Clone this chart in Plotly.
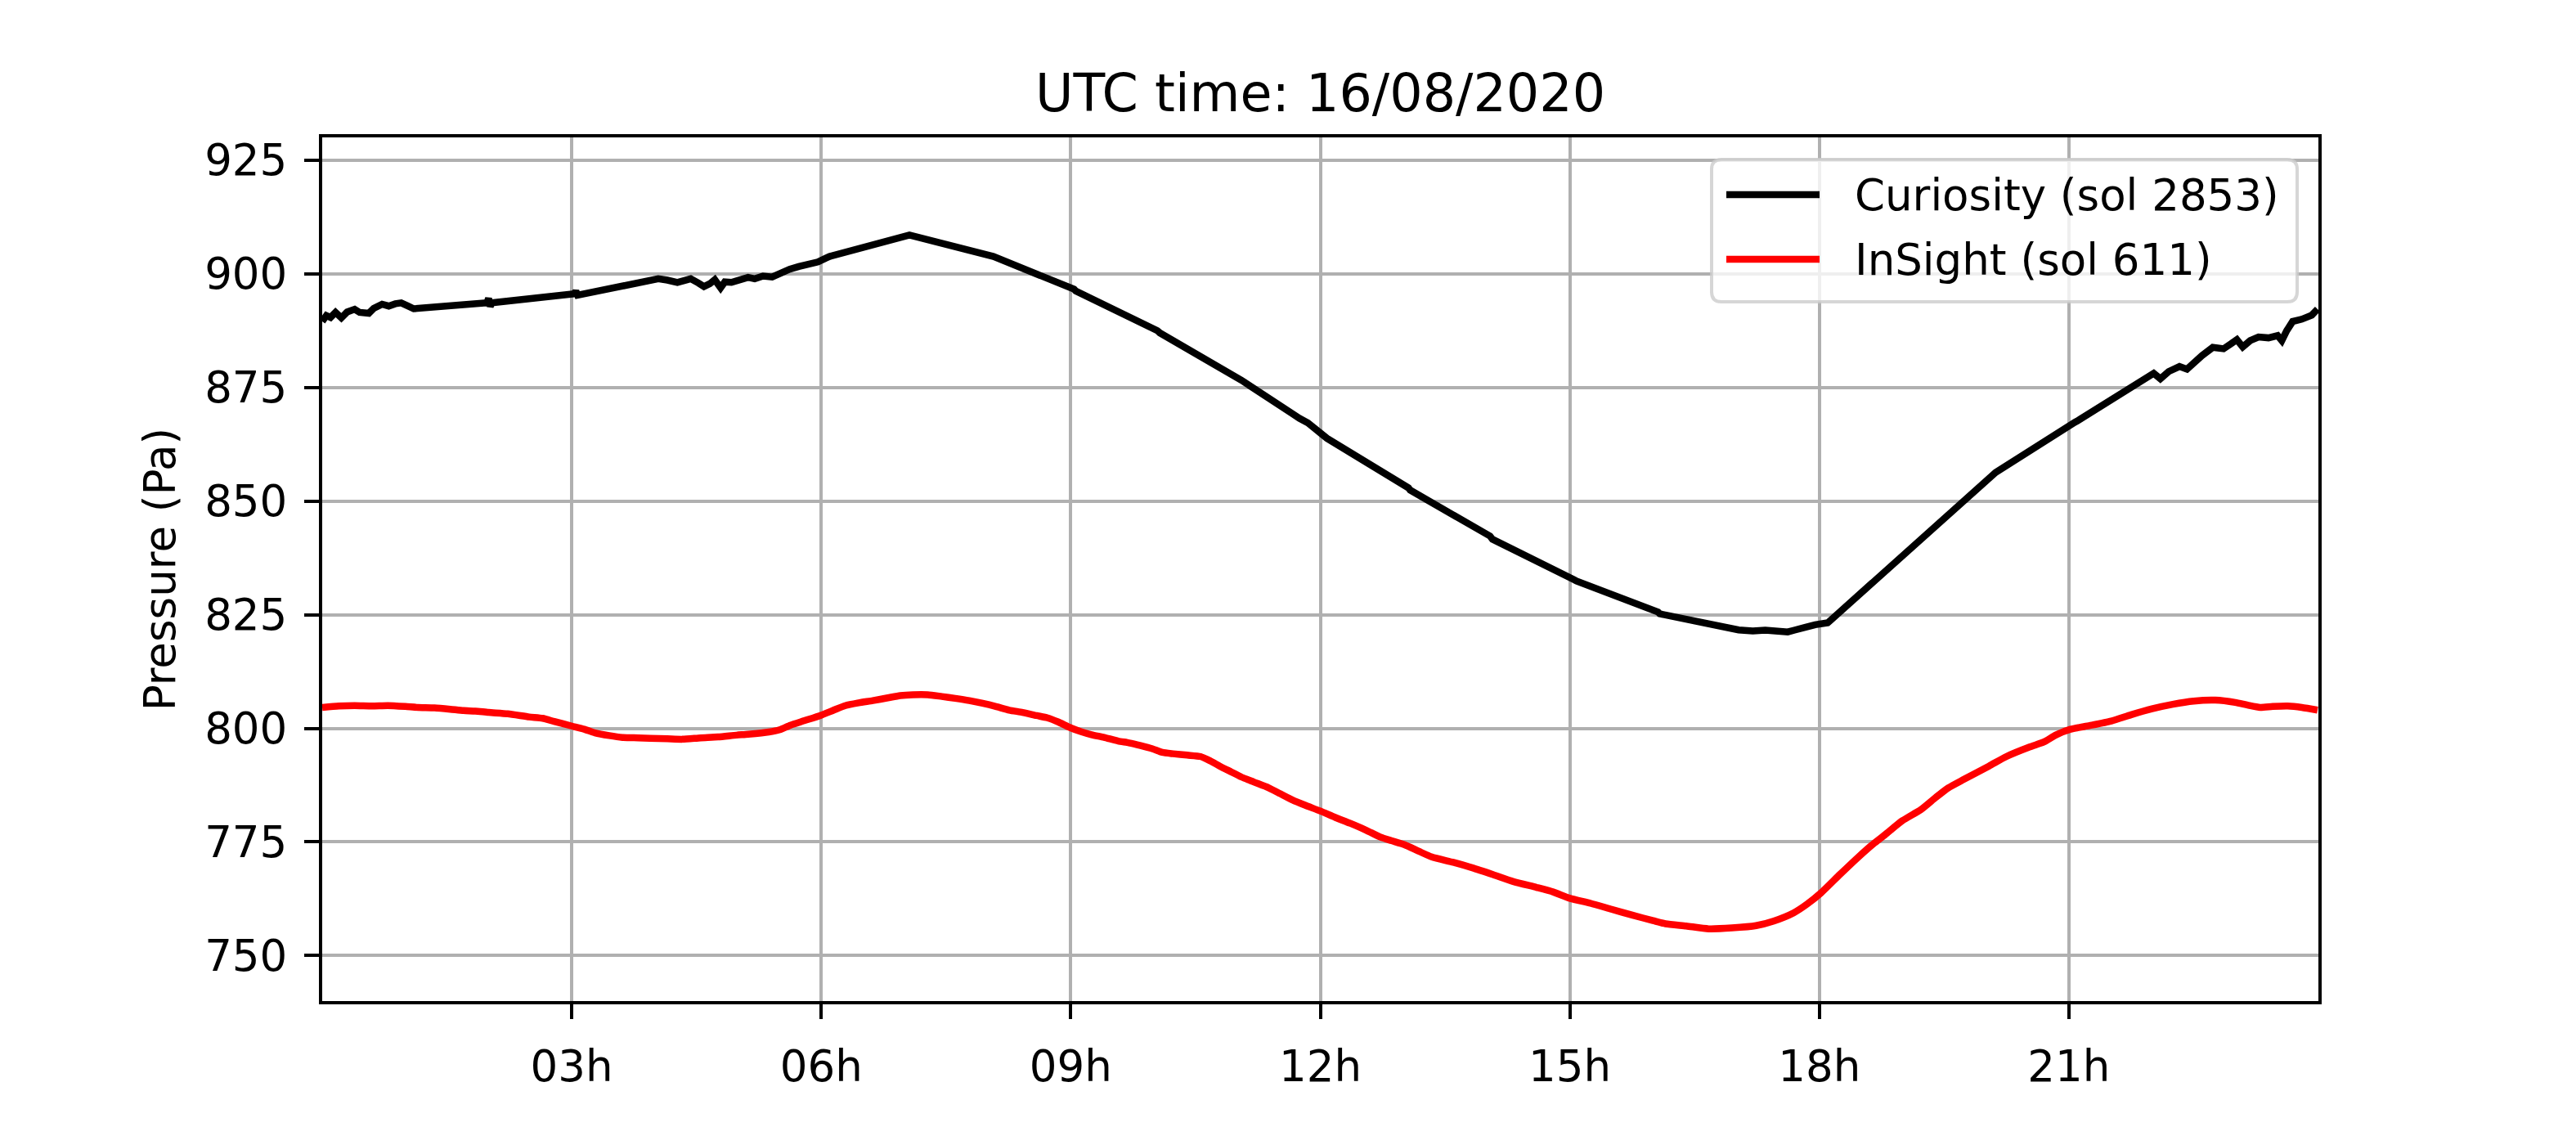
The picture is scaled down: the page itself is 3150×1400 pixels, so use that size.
import plotly.graph_objects as go

# ---------------- data (hours UTC on 16/08/2020, pressure in Pa) ----------------
curiosity_hours = [
    0.00, 0.05, 0.10, 0.16, 0.23, 0.30, 0.39, 0.45, 0.56, 0.62, 0.72, 0.80, 0.88, 0.95, 1.02, 1.10,
    1.98, 2.00, 2.02, 2.04,
    3.03, 3.05, 3.07,
    4.04, 4.15, 4.27, 4.35, 4.43, 4.52, 4.59, 4.66, 4.72, 4.79, 4.84, 4.92, 5.00, 5.12, 5.20, 5.30,
    5.41, 5.50, 5.62, 5.73, 5.85, 5.96, 6.05, 6.10,
    7.06, 8.04, 8.07, 9.04, 9.06, 10.04, 10.07,
    11.05, 11.15, 11.25, 11.35, 11.45, 11.55, 11.65, 11.75, 11.85, 11.95, 12.05, 12.08,
    13.06, 13.08, 14.04, 14.07, 15.05, 15.08, 16.06, 16.08,
    17.03, 17.20, 17.35, 17.50, 17.62, 17.70, 17.80, 17.95, 18.10,
    19.10, 19.13, 20.09, 20.12, 21.07, 21.10,
    22.02, 22.10, 22.20, 22.33, 22.42, 22.50, 22.60, 22.73, 22.86, 22.95, 23.02, 23.09, 23.18,
    23.28, 23.40, 23.51, 23.56, 23.62, 23.69, 23.80, 23.92, 23.99,
]
curiosity_pa = [
    889.5, 890.8, 890.4, 891.5, 890.3, 891.6, 892.2, 891.5, 891.3, 892.4, 893.3, 892.9, 893.4, 893.6, 893.0, 892.3,
    893.6, 894.6, 892.8, 893.6,
    895.6, 896.2, 895.3,
    898.9, 898.6, 898.1, 898.5, 898.9, 898.0, 897.2, 897.8, 898.7, 896.9, 898.2, 898.1, 898.6, 899.2, 898.9, 899.5,
    899.3, 900.1, 901.0, 901.6, 902.0, 902.6, 903.4, 903.8,
    908.5, 904.1, 903.8, 896.6, 896.2, 887.5, 887.0,
    876.6, 875.4, 873.8, 872.6, 871.6, 870.3, 869.4, 868.2, 867.2, 865.5, 864.3, 863.8,
    852.9, 852.4, 842.3, 841.6, 832.7, 832.4, 825.6, 825.2,
    821.65, 821.4, 821.6, 821.3, 821.2, 821.6, 822.1, 822.8, 823.2,
    839.6, 840.2, 855.9, 856.3, 867.3, 867.6,
    878.1, 876.9, 878.5, 879.6, 879.0, 880.5, 882.0, 883.8, 883.5, 884.6, 885.5, 883.9, 885.3,
    886.1, 885.9, 886.4, 885.3, 887.5, 889.5, 890.0, 890.9, 892.2,
]

insight_hours = [
    0.00, 0.20, 0.39, 0.60, 0.79, 1.00, 1.15, 1.35, 1.54, 1.70, 1.84, 2.00, 2.23, 2.49, 2.65, 2.79,
    3.00, 3.15, 3.28, 3.45, 3.61, 3.80, 3.94, 4.15, 4.33, 4.55, 4.76, 4.98, 5.12, 5.37, 5.50, 5.63,
    5.80, 6.00, 6.15, 6.29, 6.45, 6.62, 6.80, 6.95, 7.10, 7.28, 7.45, 7.61, 7.78, 7.94, 8.10, 8.26,
    8.42, 8.59, 8.72, 8.85, 9.00, 9.12, 9.25, 9.40, 9.57, 9.70, 9.84, 9.98, 10.10, 10.23, 10.40,
    10.56, 10.68, 10.79, 10.92, 11.05, 11.20, 11.38, 11.52, 11.67, 11.83, 12.00, 12.18, 12.36,
    12.55, 12.72, 12.85, 13.01, 13.18, 13.34, 13.60, 13.83, 14.08, 14.32, 14.60, 14.80, 15.00,
    15.25, 15.50, 15.75, 16.00, 16.15, 16.40, 16.67, 16.95, 17.24, 17.45, 17.69, 17.85, 18.02,
    18.25, 18.47, 18.65, 18.79, 19.00, 19.22, 19.40, 19.55, 19.74, 20.04, 20.25, 20.53, 20.70,
    20.85, 21.02, 21.25, 21.51, 21.75, 22.00, 22.25, 22.50, 22.76, 23.00, 23.15, 23.30, 23.45,
    23.63, 23.80, 23.99,
]
insight_pa = [
    804.6, 804.9, 805.0, 804.9, 805.0, 804.8, 804.6, 804.5, 804.2, 803.9, 803.8, 803.5, 803.2, 802.5, 802.2, 801.5,
    800.5, 799.8, 799.0, 798.4, 798.0, 797.9, 797.8, 797.7, 797.6, 797.9, 798.1, 798.5, 798.7, 799.2, 799.7, 800.7,
    801.7, 802.9, 804.0, 805.0, 805.6, 806.1, 806.7, 807.2, 807.4, 807.4, 807.0, 806.6, 806.1, 805.5, 804.8, 804.0,
    803.5, 802.8, 802.3, 801.4, 800.1, 799.3, 798.6, 798.0, 797.2, 796.8, 796.2, 795.5, 794.7, 794.4, 794.1,
    793.8, 792.8, 791.7, 790.5, 789.3, 788.2, 786.9, 785.6, 784.2, 783.0, 781.8, 780.4, 779.1,
    777.6, 776.1, 775.3, 774.4, 773.0, 771.7, 770.5, 769.3, 767.8, 766.3, 765.0, 764.0, 762.6,
    761.5, 760.2, 758.9, 757.7, 757.0, 756.5, 755.9, 756.1, 756.6, 757.6, 759.4, 761.3, 763.8,
    767.9, 771.7, 774.6, 776.6, 779.7, 782.1, 784.8, 786.9, 788.8, 791.7, 793.8, 795.9, 797.0,
    798.6, 799.8, 800.6, 801.6, 803.0, 804.3, 805.3, 806.0, 806.2, 805.7, 805.1, 804.6, 804.8,
    804.9, 804.6, 804.0,
]

series_names = ["Curiosity (sol 2853)", "InSight (sol 611)"]
series_colors = ["#000000", "#ff0000"]

x_tick_vals = [3, 6, 9, 12, 15, 18, 21]
x_tick_text = ["03h", "06h", "09h", "12h", "15h", "18h", "21h"]
y_tick_vals = [750, 775, 800, 825, 850, 875, 900, 925]

title_text = "UTC time: 16/08/2020"
y_label = "Pressure (Pa)"

# ---------------- figure ----------------
W, H = 3150, 1400
L, R, T, B = 394, 315, 168, 176     # target plot-area edges in the photographed page
OFF = 8                             # page body margin added by the browser
PW, PH = W - L - R, H - T - B
FONT = "DejaVu Sans"
TICK_FS = 53
TITLE_FS = 63.5
LW_LINE = 8.5
LW_AX = 4.2


def px_x(px):
    return (px - L) / PW


def px_y(py):
    return (H - B - py) / PH


fig = go.Figure()
fig.add_trace(go.Scatter(x=curiosity_hours, y=curiosity_pa, mode="lines", name=series_names[0],
                         line=dict(color=series_colors[0], width=LW_LINE), showlegend=False))
fig.add_trace(go.Scatter(x=insight_hours, y=insight_pa, mode="lines", name=series_names[1],
                         line=dict(color=series_colors[1], width=LW_LINE, shape="spline", smoothing=0.6),
                         showlegend=False))

axis_common = dict(
    showline=True, linecolor="black", linewidth=LW_AX, mirror=True,
    ticks="outside", ticklen=18, tickwidth=LW_AX, tickcolor="black",
    showgrid=True, gridcolor="#b0b0b0", gridwidth=LW_AX,
    zeroline=False,
    tickfont=dict(family=FONT, size=TICK_FS, color="black"),
)

fig.update_layout(
    width=W, height=H,
    margin=dict(l=L - OFF, r=R + OFF, t=T - OFF, b=B + OFF, autoexpand=False),
    paper_bgcolor="white", plot_bgcolor="white",
    font=dict(family=FONT, color="black"),
    title=dict(text=title_text, x=(L - OFF + PW / 2) / W, xanchor="center",
               y=1 - (114 - OFF) / H, yanchor="middle", yref="container",
               font=dict(family=FONT, size=TITLE_FS, color="black")),
    xaxis=dict(range=[0, 24], tickmode="array", tickvals=x_tick_vals, ticktext=x_tick_text,
               ticklabelstandoff=12, **axis_common),
    yaxis=dict(range=[740, 930], tickmode="array", tickvals=y_tick_vals,
               ticklabelstandoff=10,
               title=dict(text=y_label, font=dict(family=FONT, size=TICK_FS, color="black"), standoff=20),
               **axis_common),
    showlegend=False,
)

# ---------------- legend (matplotlib-style box) ----------------
bx0, bx1, by0, by1 = 2093, 2809, 195, 369
r = 12
rx, ry = r / PW, r / PH
X0, X1, Y0, Y1 = px_x(bx0), px_x(bx1), px_y(by1), px_y(by0)
path = (f"M{X0 + rx},{Y0} L{X1 - rx},{Y0} Q{X1},{Y0} {X1},{Y0 + ry} "
        f"L{X1},{Y1 - ry} Q{X1},{Y1} {X1 - rx},{Y1} "
        f"L{X0 + rx},{Y1} Q{X0},{Y1} {X0},{Y1 - ry} "
        f"L{X0},{Y0 + ry} Q{X0},{Y0} {X0 + rx},{Y0} Z")
fig.add_shape(type="path", path=path, xref="paper", yref="paper", layer="above",
              fillcolor="rgba(255,255,255,0.8)", line=dict(color="rgba(204,204,204,0.8)", width=4))

row_y = [238, 317]
for name, color, ry_px in zip(series_names, series_colors, row_y):
    fig.add_shape(type="line", xref="paper", yref="paper", layer="above",
                  x0=px_x(2111), x1=px_x(2225), y0=px_y(ry_px), y1=px_y(ry_px),
                  line=dict(color=color, width=LW_LINE))
    fig.add_annotation(text=name, xref="paper", yref="paper", x=px_x(2266), y=px_y(ry_px),
                       xanchor="left", yanchor="middle", showarrow=False,
                       font=dict(family=FONT, size=TICK_FS, color="black"))

fig.write_html("out.html")
